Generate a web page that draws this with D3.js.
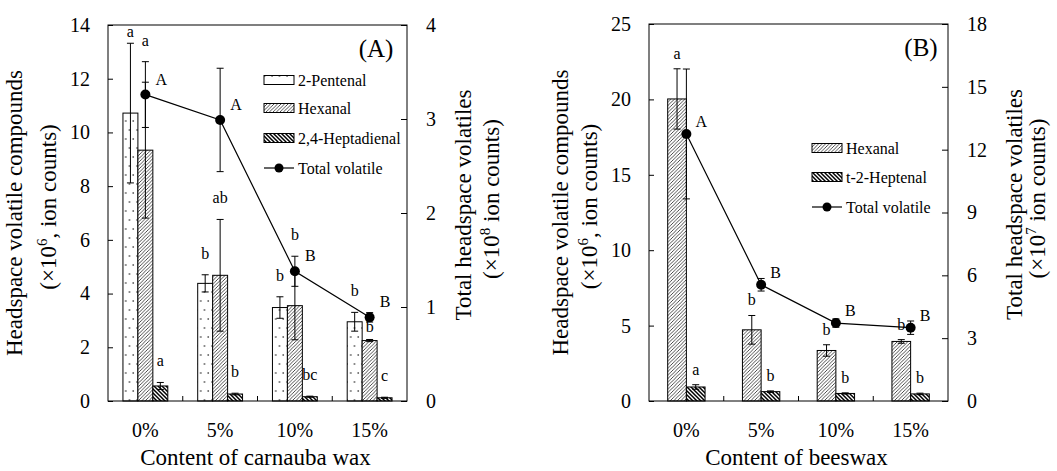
<!DOCTYPE html>
<html>
<head>
<meta charset="utf-8">
<script src="https://cdnjs.cloudflare.com/ajax/libs/d3/7.8.5/d3.min.js"></script>
<style>
	body{margin:0;background:#fff;}
	svg{display:block;font-family:"Liberation Serif","Times New Roman",serif;}
</style>
</head>
<body>
<script>

var doseLabels = ["0%", "5%", "10%", "15%"];

// (A) carnauba wax, compounds x10^6, total x10^8
var carnaubaPentenal = [10.72, 4.38, 3.48, 2.95];
var carnaubaPentenalErr = [2.6, 0.32, 0.4, 0.35];
var carnaubaPentenalSig = ["a", "b", "b", "b"];
var carnaubaHexanal = [9.34, 4.68, 3.55, 2.25];
var carnaubaHexanalErr = [2.53, 2.08, 1.27, 0.04];
var carnaubaHexanalSig = ["a", "ab", "b", "b"];
var carnaubaHeptadienal = [0.56, 0.26, 0.16, 0.12];
var carnaubaHeptadienalErr = [0.13, 0.03, 0.02, 0.02];
var carnaubaHeptadienalSig = ["a", "b", "bc", "c"];
var carnaubaTotal = [3.26, 2.99, 1.38, 0.89];
var carnaubaTotalErr = [0.35, 0.55, 0.16, 0.05];
var carnaubaTotalSig = ["A", "A", "B", "B"];

// (B) beeswax, compounds x10^6, total x10^7
var beeswaxHexanal = [20.03, 4.72, 3.35, 3.95];
var beeswaxHexanalErr = [2.0, 0.95, 0.38, 0.12];
var beeswaxHexanalSig = ["a", "b", "b", "b"];
var beeswaxHeptenal = [0.93, 0.62, 0.5, 0.47];
var beeswaxHeptenalErr = [0.15, 0.05, 0.04, 0.05];
var beeswaxHeptenalSig = ["a", "b", "b", "b"];
var beeswaxTotal = [12.75, 5.55, 3.72, 3.5];
var beeswaxTotalErr = [3.1, 0.3, 0.2, 0.32];
var beeswaxTotalSig = ["A", "B", "B", "B"];

var W = 1057, H = 471;
var svg = d3.select("body").append("svg").attr("width", W).attr("height", H);

// fill patterns
var defs = svg.append("defs");
var pDots = defs.append("pattern").attr("id", "dots").attr("patternUnits", "userSpaceOnUse")
		.attr("width", 7.5).attr("height", 18);
pDots.append("rect").attr("width", 7.5).attr("height", 18).attr("fill", "#fff");
pDots.append("circle").attr("cx", 2).attr("cy", 4).attr("r", 0.75).attr("fill", "#000");
pDots.append("circle").attr("cx", 5.75).attr("cy", 13).attr("r", 0.75).attr("fill", "#000");

var pHatch = defs.append("pattern").attr("id", "hatch").attr("patternUnits", "userSpaceOnUse")
		.attr("width", 3.5).attr("height", 3.5);
pHatch.append("rect").attr("width", 3.5).attr("height", 3.5).attr("fill", "#fff");
pHatch.append("path").attr("d", "M0,3.5L3.5,0M-1,1L1,-1M2.5,4.5L4.5,2.5")
		.attr("stroke", "#000").attr("stroke-width", 0.7);

var pDense = defs.append("pattern").attr("id", "dense").attr("patternUnits", "userSpaceOnUse")
		.attr("width", 4).attr("height", 4);
pDense.append("rect").attr("width", 4).attr("height", 4).attr("fill", "#fff");
pDense.append("path").attr("d", "M0,0L4,4M-1,3L1,5M3,-1L5,1")
		.attr("stroke", "#000").attr("stroke-width", 1.5);

var panels = [
	{
		left: 108, right: 407, top: 25, bottom: 401,
		yMax: 14, yStep: 2, y2Max: 4, y2Step: 1,
		series: [
			{name: "2-Pentenal", values: carnaubaPentenal, err: carnaubaPentenalErr, sig: carnaubaPentenalSig, fill: "url(#dots)"},
			{name: "Hexanal", values: carnaubaHexanal, err: carnaubaHexanalErr, sig: carnaubaHexanalSig, fill: "url(#hatch)"},
			{name: "2,4-Heptadienal", values: carnaubaHeptadienal, err: carnaubaHeptadienalErr, sig: carnaubaHeptadienalSig, fill: "url(#dense)"}
		],
		total: carnaubaTotal, totalErr: carnaubaTotalErr, totalSig: carnaubaTotalSig,
		tag: "(A)", tagX: 376, tagY: 57,
		legendX: 264, legendY: [80, 108, 138, 168],
		xTitle: "Content of carnauba wax",
		yTitleX: [22, 56], y2TitleX: [471, 499], sup: "6", sup2: "8",
		gap: 16, tdx: 10, tdy: -10
	},
	{
		left: 649, right: 948, top: 24, bottom: 401,
		yMax: 25, yStep: 5, y2Max: 18, y2Step: 3,
		series: [
			{name: "Hexanal", values: beeswaxHexanal, err: beeswaxHexanalErr, sig: beeswaxHexanalSig, fill: "url(#hatch)"},
			{name: "t-2-Heptenal", values: beeswaxHeptenal, err: beeswaxHeptenalErr, sig: beeswaxHeptenalSig, fill: "url(#dense)"}
		],
		total: beeswaxTotal, totalErr: beeswaxTotalErr, totalSig: beeswaxTotalSig,
		tag: "(B)", tagX: 921, tagY: 56,
		legendX: 812, legendY: [148, 177, 207],
		xTitle: "Content of beeswax",
		yTitleX: [568, 597], y2TitleX: [1022, 1045], sup: "6", sup2: "7",
		gap: 10, tdx: 9, tdy: -7
	}
];

function supText(sel, pre, sup, post){
	sel.append("tspan").text(pre);
	sel.append("tspan").attr("dy", -9).attr("font-size", "15px").text(sup);
	sel.append("tspan").attr("dy", 9).text(post);
}

function drawPanel(p){
	var g = svg.append("g");
	var x = d3.scaleBand().domain(doseLabels).range([p.left, p.right]);
	var x1 = d3.scaleBand().domain(p.series.map(function(s){return s.name;}))
			.range([0, x.bandwidth()]).paddingOuter(1);
	var y = d3.scaleLinear().domain([0, p.yMax]).range([p.bottom, p.top]);
	var y2 = d3.scaleLinear().domain([0, p.y2Max]).range([p.bottom, p.top]);
	var bw = x1.bandwidth();

	// pixel boxes of the total volatile marks, used to keep letters off them
	var totBox = p.total.map(function(v, i){
		var cy = y2(v);
		return {
			x: x(doseLabels[i]) + x.bandwidth() / 2,
			top: Math.min(y2(v + p.totalErr[i]), cy - 5),
			bot: Math.max(y2(v - p.totalErr[i]), cy + 5)
		};
	});

	function sigY(cx, ownTop, i){
		var yy = Math.max(ownTop - p.gap, p.top + 12);
		var t = totBox[i];
		if(Math.abs(cx - t.x) < 9 && yy + 4 > t.top && yy - 12 < t.bot){
			if(ownTop - t.bot >= 12) yy = t.bot + 10;
			else yy = Math.max(t.top - p.gap, p.top + 12);
		}
		return yy;
	}

	// bars
	p.series.forEach(function(s){
		var sg = g.append("g");
		sg.selectAll("rect").data(s.values).enter().append("rect")
			.attr("x", function(d, i){return x(doseLabels[i]) + x1(s.name);})
			.attr("y", function(d){return y(d);})
			.attr("width", bw)
			.attr("height", function(d){return y(0) - y(d);})
			.attr("fill", s.fill)
			.attr("stroke", "#000")
			.attr("stroke-width", 1);

		var eg = sg.selectAll("g.err").data(s.values).enter().append("g").attr("class", "err")
			.attr("stroke", "#000").attr("stroke-width", 1);
		eg.each(function(d, i){
			var cx = x(doseLabels[i]) + x1(s.name) + bw / 2;
			var e = s.err[i];
			var el = d3.select(this);
			el.append("line").attr("x1", cx).attr("x2", cx).attr("y1", y(d - e)).attr("y2", y(d + e));
			el.append("line").attr("x1", cx - 3.5).attr("x2", cx + 3.5).attr("y1", y(d - e)).attr("y2", y(d - e));
			el.append("line").attr("x1", cx - 3.5).attr("x2", cx + 3.5).attr("y1", y(d + e)).attr("y2", y(d + e));
		});

		sg.selectAll("text").data(s.sig).enter().append("text")
			.attr("x", function(d, i){return x(doseLabels[i]) + x1(s.name) + bw / 2;})
			.attr("y", function(d, i){
				var cx = x(doseLabels[i]) + x1(s.name) + bw / 2;
				return sigY(cx, y(s.values[i] + s.err[i]), i);
			})
			.attr("text-anchor", "middle")
			.attr("font-size", "16px")
			.text(function(d){return d;});
	});

	// total volatile line
	var line = d3.line()
		.x(function(d, i){return x(doseLabels[i]) + x.bandwidth() / 2;})
		.y(function(d){return y2(d);});
	g.append("path").datum(p.total).attr("d", line)
		.attr("fill", "none").attr("stroke", "#000").attr("stroke-width", 1.2);

	p.total.forEach(function(v, i){
		var cx = x(doseLabels[i]) + x.bandwidth() / 2;
		var e = p.totalErr[i];
		var tg = g.append("g").attr("stroke", "#000").attr("stroke-width", 1);
		tg.append("line").attr("x1", cx).attr("x2", cx).attr("y1", y2(v - e)).attr("y2", y2(v + e));
		tg.append("line").attr("x1", cx - 3.5).attr("x2", cx + 3.5).attr("y1", y2(v - e)).attr("y2", y2(v - e));
		tg.append("line").attr("x1", cx - 3.5).attr("x2", cx + 3.5).attr("y1", y2(v + e)).attr("y2", y2(v + e));
		g.append("circle").attr("cx", cx).attr("cy", y2(v)).attr("r", 5).attr("fill", "#000");
		g.append("text").attr("x", cx + p.tdx).attr("y", y2(v) + p.tdy)
			.attr("font-size", "16px").text(p.totalSig[i]);
	});

	// frame
	g.append("rect").attr("x", p.left).attr("y", p.top)
		.attr("width", p.right - p.left).attr("height", p.bottom - p.top)
		.attr("fill", "none").attr("stroke", "#000").attr("stroke-width", 1);

	// axes, ticks pointing inward
	var yAxis = d3.axisLeft(y).tickValues(d3.range(0, p.yMax + 0.001, p.yStep))
		.tickFormat(d3.format("d"))
		.tickSizeInner(-5).tickSizeOuter(0).tickPadding(18);
	var y2Axis = d3.axisRight(y2).tickValues(d3.range(0, p.y2Max + 0.001, p.y2Step))
		.tickFormat(d3.format("d"))
		.tickSizeInner(-6).tickSizeOuter(0).tickPadding(19);
	var ga = g.append("g").attr("transform", "translate(" + p.left + ",0)").call(yAxis);
	var gb = g.append("g").attr("transform", "translate(" + p.right + ",0)").call(y2Axis);
	[ga, gb].forEach(function(a){
		a.attr("font-family", null).attr("font-size", null);
		a.select(".domain").remove();
		a.selectAll("line").attr("stroke", "#000");
		a.selectAll("text").attr("font-size", "20px").attr("fill", "#000");
	});

	// group separators on the bottom
	g.selectAll("line.sep").data(doseLabels.slice(1)).enter().append("line")
		.attr("x1", function(d){return x(d);}).attr("x2", function(d){return x(d);})
		.attr("y1", p.bottom).attr("y2", p.bottom - 5)
		.attr("stroke", "#000");
	g.selectAll("text.xl").data(doseLabels).enter().append("text")
		.attr("x", function(d){return x(d) + x.bandwidth() / 2;})
		.attr("y", 437)
		.attr("text-anchor", "middle").attr("font-size", "20px")
		.text(function(d){return d;});

	// titles
	g.append("text").attr("x", (p.left + p.right) / 2 - 2).attr("y", 465)
		.attr("text-anchor", "middle").attr("font-size", "23px").text(p.xTitle);

	var cy = (p.top + p.bottom) / 2;
	g.append("text").attr("transform", "translate(" + p.yTitleX[0] + "," + cy + ") rotate(-90)")
		.attr("text-anchor", "middle").attr("font-size", "23px").text("Headspace volatile compounds");
	supText(g.append("text").attr("transform", "translate(" + p.yTitleX[1] + "," + (cy - 6) + ") rotate(-90)")
		.attr("text-anchor", "middle").attr("font-size", "23px"), "(×10", p.sup, ", ion counts)");
	g.append("text").attr("transform", "translate(" + p.y2TitleX[0] + "," + (cy - 8) + ") rotate(-90)")
		.attr("text-anchor", "middle").attr("font-size", "23px").text("Total headspace volatiles");
	supText(g.append("text").attr("transform", "translate(" + p.y2TitleX[1] + "," + (cy - 14) + ") rotate(-90)")
		.attr("text-anchor", "middle").attr("font-size", "23px"), "(×10", p.sup2, " ion counts)");

	g.append("text").attr("x", p.tagX).attr("y", p.tagY)
		.attr("text-anchor", "middle").attr("font-size", "25px").text(p.tag);

	// legend
	var lg = g.append("g").attr("font-size", "16px");
	p.series.forEach(function(s, i){
		var ly = p.legendY[i];
		lg.append("rect").attr("x", p.legendX).attr("y", ly - 4.5).attr("width", 30).attr("height", 9)
			.attr("fill", s.fill).attr("stroke", "#000").attr("stroke-width", 1);
		lg.append("text").attr("x", p.legendX + 34).attr("y", ly + 5.5).text(s.name);
	});
	var ty = p.legendY[p.series.length];
	lg.append("line").attr("x1", p.legendX).attr("x2", p.legendX + 30).attr("y1", ty).attr("y2", ty)
		.attr("stroke", "#000").attr("stroke-width", 1.2);
	lg.append("circle").attr("cx", p.legendX + 15).attr("cy", ty).attr("r", 4.5).attr("fill", "#000");
	lg.append("text").attr("x", p.legendX + 34).attr("y", ty + 5.5).text("Total volatile");
}

panels.forEach(drawPanel);

</script>
</body>
</html>
